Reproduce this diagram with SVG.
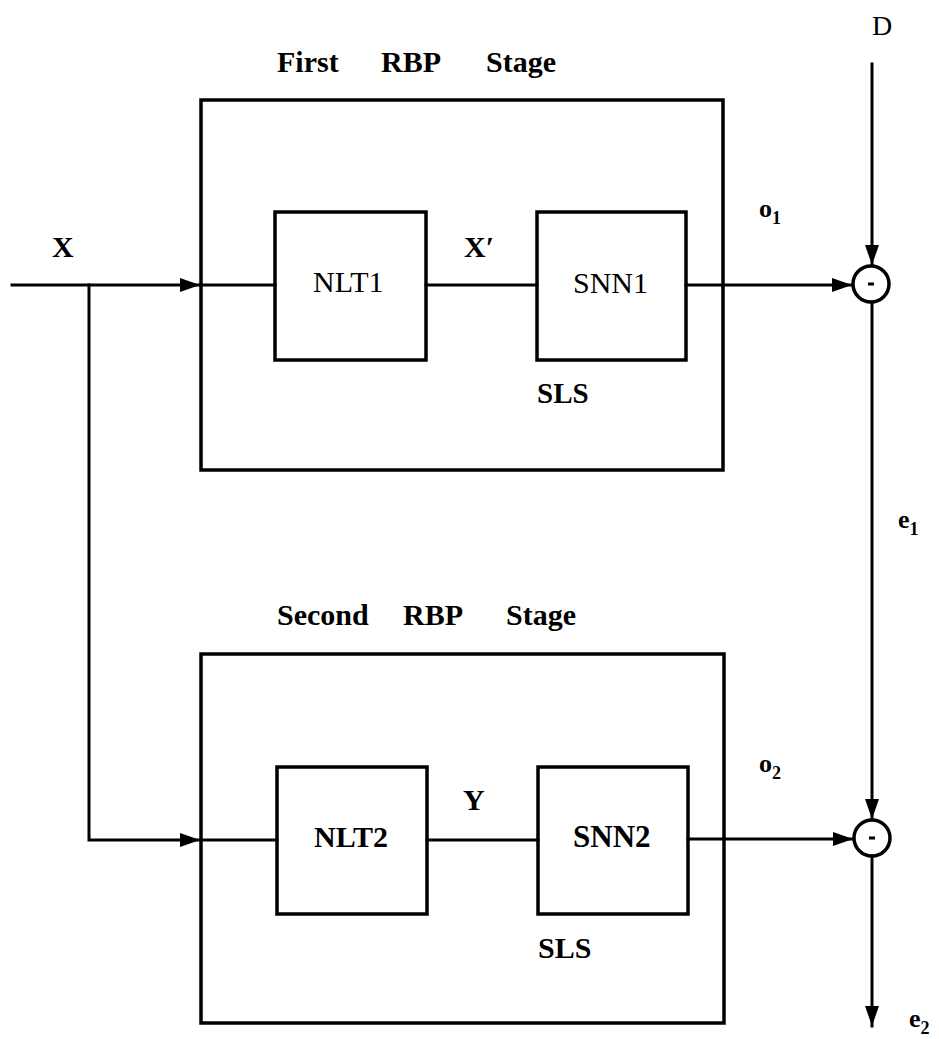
<svg xmlns="http://www.w3.org/2000/svg" width="939" height="1039" viewBox="0 0 939 1039">
<defs>
<style>
.ln{fill:none;stroke:#000;stroke-width:3;stroke-linecap:square}
.bx{fill:none;stroke:#000;stroke-width:3.5}
.t{font-family:"Liberation Serif","Times New Roman",serif;fill:#000;font-size:30px}
.b{font-weight:bold}
.s{font-size:18px}
</style>
<marker id="ah" viewBox="0 0 20 14" refX="20" refY="7" markerWidth="20" markerHeight="14" markerUnits="userSpaceOnUse" orient="auto">
<path d="M0,0 L20,7 L0,14 Z" fill="#000"/>
</marker>
</defs>
<rect width="939" height="1039" fill="#fff"/>

<g id="stage1">
<rect class="bx" x="201" y="100" width="522" height="370"/>
<text class="t b" x="277" y="72">First</text>
<text class="t b" x="381" y="72">RBP</text>
<text class="t b" x="486" y="72">Stage</text>
</g>
<g id="nlt1">
<rect class="bx" x="275" y="212" width="151" height="148"/>
<text class="t" x="313" y="292">NLT1</text>
</g>
<g id="snn1">
<rect class="bx" x="537" y="212" width="149" height="148"/>
<text class="t" x="573" y="293">SNN1</text>
<text class="t b" x="537" y="403" style="font-size:29px">SLS</text>
</g>

<g id="stage2">
<rect class="bx" x="201" y="654" width="523" height="369"/>
<text class="t b" x="277" y="625">Second</text>
<text class="t b" x="403" y="625">RBP</text>
<text class="t b" x="506" y="625">Stage</text>
</g>
<g id="nlt2">
<rect class="bx" x="277" y="767" width="150" height="147"/>
<text class="t b" x="314" y="847">NLT2</text>
</g>
<g id="snn2">
<rect class="bx" x="538" y="767" width="150" height="147"/>
<text class="t b" x="573" y="847" style="font-size:31px">SNN2</text>
<text class="t b" x="538" y="958" style="font-size:30px">SLS</text>
</g>

<g id="sum1">
<circle cx="871" cy="284" r="18" fill="#fff" stroke="#000" stroke-width="3.5"/>
<line x1="868" y1="284" x2="874" y2="284" stroke="#000" stroke-width="3"/>
</g>
<g id="sum2">
<circle cx="872" cy="838" r="18" fill="#fff" stroke="#000" stroke-width="3.5"/>
<line x1="869" y1="838" x2="875" y2="838" stroke="#000" stroke-width="3"/>
</g>

<g id="connectors">
<line class="ln" x1="12" y1="285" x2="200" y2="285" marker-end="url(#ah)"/>
<line class="ln" x1="201" y1="285" x2="275" y2="285"/>
<line class="ln" x1="426" y1="285" x2="537" y2="285"/>
<line class="ln" x1="686" y1="285" x2="852" y2="285" marker-end="url(#ah)"/>
<polyline class="ln" points="89,285 89,840 200,840" marker-end="url(#ah)"/>
<line class="ln" x1="201" y1="840" x2="277" y2="840"/>
<line class="ln" x1="427" y1="840" x2="538" y2="840"/>
<line class="ln" x1="688" y1="839" x2="853" y2="839" marker-end="url(#ah)"/>
<line class="ln" x1="872" y1="64" x2="872" y2="265" marker-end="url(#ah)"/>
<line class="ln" x1="872" y1="302" x2="872" y2="819" marker-end="url(#ah)"/>
<line class="ln" x1="872" y1="856" x2="872" y2="1026" marker-end="url(#ah)"/>
</g>

<g id="labels">
<text class="t b" x="52" y="257">X</text>
<text class="t b" x="464" y="257">X′</text>
<text class="t b" x="463" y="810">Y</text>
<text class="t" x="872" y="35" style="font-size:28px">D</text>
<text class="t b" x="759" y="217" style="font-size:26px">o<tspan class="s" dy="7">1</tspan></text>
<text class="t b" x="759" y="772" style="font-size:26px">o<tspan class="s" dy="7">2</tspan></text>
<text class="t b" x="898" y="528" style="font-size:26px">e<tspan class="s" dy="7">1</tspan></text>
<text class="t b" x="909" y="1027" style="font-size:26px">e<tspan class="s" dy="7">2</tspan></text>
</g>
</svg>
